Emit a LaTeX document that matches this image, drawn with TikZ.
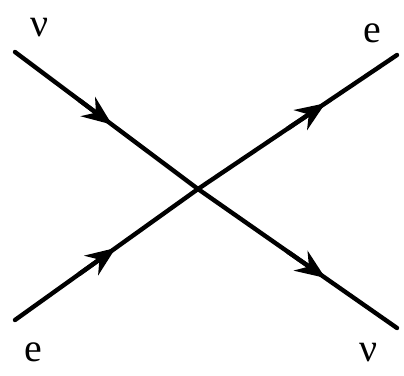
\documentclass[tikz,border=0pt]{standalone}
\usepackage{fontspec}
\setmainfont{Liberation Serif}
\usetikzlibrary{arrows.meta,calc}
\tikzset{
  line/.style={line width=4.4pt, line cap=round},
  head/.style={line width=4.4pt, -{Stealth[length=30bp,width=24bp,inset=10bp]}},
  lbl/.style={font=\fontsize{40}{40}\selectfont, inner sep=0pt}
}
\begin{document}
\begin{tikzpicture}[x=1bp,y=-1bp]
\useasboundingbox (0,0) rectangle (404,376);
\coordinate (a) at (15,52);
\coordinate (b) at (15,320);
\coordinate (c) at (397,55);
\coordinate (d) at (397,328);
\coordinate (x) at (198,189);
\draw[line] (a) -- (x) -- (d);
\draw[line] (b) -- (x) -- (c);
\draw[head] ($(a)!0.35!(x)$) -- ($(a)!0.53!(x)$);
\draw[head] ($(b)!0.35!(x)$) -- ($(b)!0.55!(x)$);
\draw[head] ($(x)!0.45!(c)$) -- ($(x)!0.64!(c)$);
\draw[head] ($(x)!0.45!(d)$) -- ($(x)!0.64!(d)$);
\node[lbl] (la) at (40,28) {ν};
\node[lbl] (lc) at (372,33) {e};
\node[lbl] (lb) at (33,352) {e};
\node[lbl] (ld) at (369,353) {ν};
\end{tikzpicture}
\end{document}
